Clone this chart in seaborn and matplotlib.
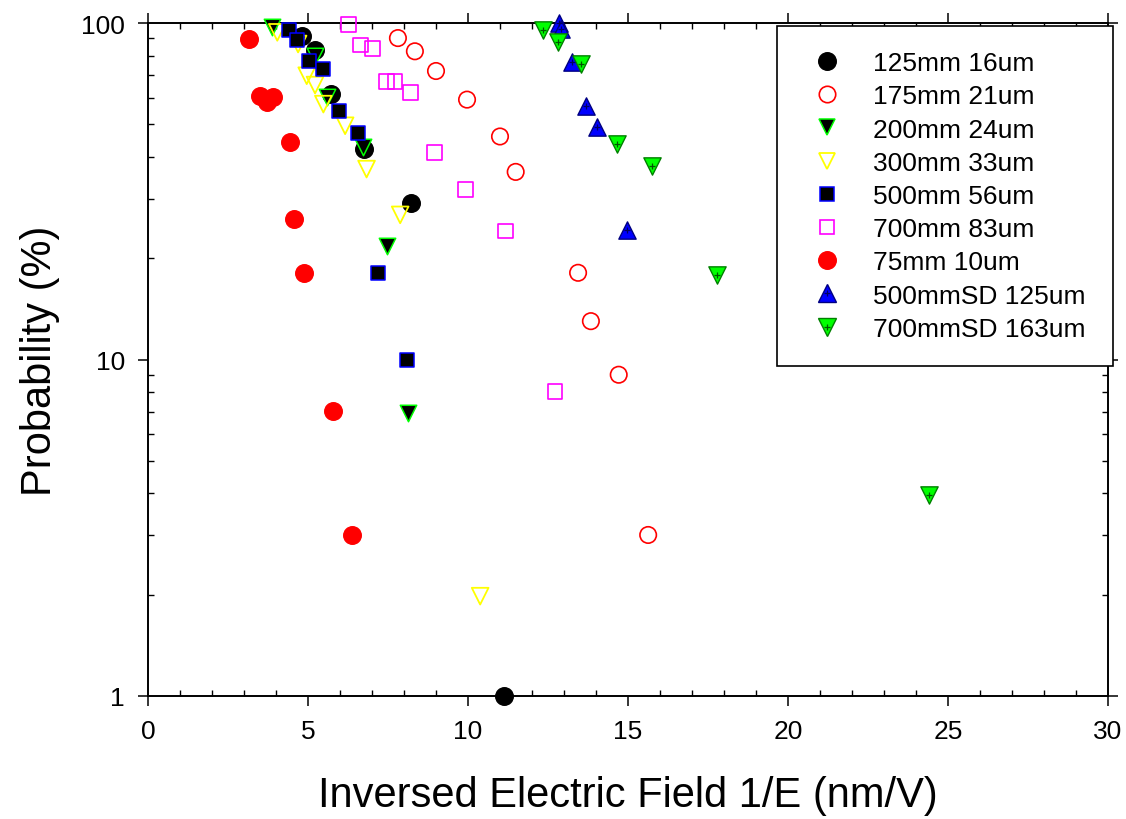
import numpy as np
import pandas as pd
import matplotlib
matplotlib.use("Agg")
import matplotlib.pyplot as plt
from matplotlib.lines import Line2D
from matplotlib.legend_handler import HandlerTuple
from matplotlib.ticker import LogLocator, FixedLocator, FixedFormatter, MultipleLocator, NullFormatter
import seaborn as sns

# ---------------- data ----------------
x_125mm = [4.80, 5.22, 5.72, 6.75, 8.22, 11.13]
y_125mm = [91.7, 83.2, 61.5, 42.2, 29.2, 1.0]

x_175mm = [7.81, 8.34, 9.00, 9.97, 11.00, 11.49, 13.44, 13.84, 14.71, 15.63]
y_175mm = [90.2, 82.4, 72.0, 59.2, 46.0, 36.1, 18.1, 13.0, 9.01, 3.01]

x_200mm = [3.87, 5.22, 5.60, 6.71, 7.46, 8.12]
y_200mm = [97.1, 80.0, 60.2, 42.8, 21.8, 6.92]

x_300mm = [4.04, 4.69, 4.96, 5.22, 5.48, 6.16, 6.83, 7.88, 10.38]
y_300mm = [93.8, 86.6, 69.7, 65.4, 57.4, 49.5, 36.8, 26.9, 1.98]

x_500mm = [4.41, 4.67, 5.03, 5.46, 5.98, 6.55, 7.19, 8.09]
y_500mm = [95.5, 89.0, 77.1, 73.0, 54.9, 47.1, 18.1, 9.99]

x_700mm = [6.26, 6.63, 7.02, 7.44, 7.72, 8.19, 8.94, 9.91, 11.16, 12.72]
y_700mm = [98.9, 86.0, 84.1, 66.9, 66.9, 62.2, 41.1, 32.1, 24.1, 8.01]

x_75mm = [3.17, 3.50, 3.71, 3.92, 4.44, 4.57, 4.88, 5.78, 6.38]
y_75mm = [89.6, 60.8, 58.1, 60.2, 44.2, 26.2, 18.1, 7.03, 3.01]

x_500SD = [12.84, 12.90, 13.24, 13.68, 14.02, 14.96]
y_500SD = [100.0, 96.0, 76.7, 56.8, 49.1, 24.3]

x_700SD = [12.33, 12.82, 13.53, 14.65, 15.76, 17.79, 24.41]
y_700SD = [95.5, 87.6, 75.5, 43.7, 37.7, 17.8, 3.96]

labels = ["125mm 16um", "175mm 21um", "200mm 24um", "300mm 33um", "500mm 56um",
          "700mm 83um", "75mm 10um", "500mmSD 125um", "700mmSD 163um"]
x_label = "Inversed Electric Field 1/E (nm/V)"
y_label = "Probability (%)"
x_ticks = [0, 5, 10, 15, 20, 25, 30]
y_ticks = [1, 10, 100]
y_ticklabels = ["1", "10", "100"]

# ---------------- style ----------------
sns.set_style("white")
plt.rcParams["font.family"] = ["Liberation Sans", "DejaVu Sans"]
for k in ["text.color", "axes.labelcolor", "xtick.color", "ytick.color", "axes.edgecolor"]:
    plt.rcParams[k] = "black"

fig = plt.figure(figsize=(11.26, 8.2), dpi=100)
ax = fig.add_axes([148 / 1126, 1 - 697 / 820, (1108 - 148) / 1126, (697 - 24) / 820])

series = [
    (x_125mm, y_125mm, dict(marker="o", s=160, facecolor="black", edgecolor="black", linewidth=1.0)),
    (x_175mm, y_175mm, dict(marker="o", s=140, facecolor="none", edgecolor="#ff0000", linewidth=1.2)),
    (x_200mm, y_200mm, dict(marker="v", s=140, facecolor="black", edgecolor="#00ff00", linewidth=1.1)),
    (x_300mm, y_300mm, dict(marker="v", s=145, facecolor="none", edgecolor="#ffff00", linewidth=1.3)),
    (x_500mm, y_500mm, dict(marker="s", s=110, facecolor="black", edgecolor="#0000ff", linewidth=1.1)),
    (x_700mm, y_700mm, dict(marker="s", s=115, facecolor="none", edgecolor="#ff00ff", linewidth=1.2)),
    (x_75mm, y_75mm, dict(marker="o", s=160, facecolor="#ff0000", edgecolor="#ff0000", linewidth=1.0)),
    (x_500SD, y_500SD, dict(marker="^", s=155, facecolor="#0000ff", edgecolor="#000080", linewidth=1.0)),
    (x_700SD, y_700SD, dict(marker="v", s=155, facecolor="#00ff00", edgecolor="#008000", linewidth=1.0)),
]
inner = {7: "#000060", 8: "#005500"}

handles = []
for i, (xs, ys, st) in enumerate(series):
    df = pd.DataFrame({"x": xs, "y": ys})
    sns.scatterplot(data=df, x="x", y="y", ax=ax, legend=False, clip_on=False,
                    zorder=3 + i * 0.01, **st)
    ms = np.sqrt(st["s"])
    h = Line2D([], [], linestyle="none", marker=st["marker"], markersize=ms,
               markerfacecolor=st["facecolor"], markeredgecolor=st["edgecolor"],
               markeredgewidth=st["linewidth"])
    if i in inner:
        sns.scatterplot(data=df, x="x", y="y", ax=ax, legend=False, clip_on=False,
                        marker="+", s=25, color=inner[i], linewidth=0.9, zorder=3.5)
        h2 = Line2D([], [], linestyle="none", marker="+", markersize=5,
                    color=inner[i], markeredgewidth=0.9)
        handles.append((h, h2))
    else:
        handles.append(h)

ax.set_yscale("log")
ax.set_xlim(0, 30)
ax.set_ylim(1, 100)
ax.xaxis.set_major_locator(FixedLocator(x_ticks))
ax.xaxis.set_minor_locator(MultipleLocator(1))
ax.yaxis.set_major_locator(FixedLocator(y_ticks))
ax.yaxis.set_major_formatter(FixedFormatter(y_ticklabels))
ax.yaxis.set_minor_locator(LogLocator(base=10, subs=np.arange(2, 10)))
ax.yaxis.set_minor_formatter(NullFormatter())

for sp in ax.spines.values():
    sp.set_visible(True)
    sp.set_color("black")
    sp.set_linewidth(1.4)

ax.tick_params(which="major", direction="out", length=7.5, width=1.1,
               bottom=True, left=True, top=True, right=True,
               labelsize=19, pad=9, color="black", labelcolor="black")
ax.tick_params(which="minor", direction="in", length=4.5, width=1.0,
               bottom=True, left=True, top=True, right=True, color="black")

ax.set_xlabel(x_label, fontsize=30, labelpad=23, color="black")
ax.set_ylabel(y_label, fontsize=30, labelpad=15, color="black")

leg = ax.legend(handles, labels, loc="upper left",
                bbox_to_anchor=(777 / 1126, 1 - 361 / 820, (1113 - 777) / 1126, (361 - 27) / 820),
                bbox_transform=fig.transFigure, mode="expand", borderaxespad=0,
                fontsize=19, frameon=True, fancybox=False, framealpha=1,
                edgecolor="black", borderpad=0.95, labelspacing=0.35,
                handlelength=1.89, handletextpad=0.8,
                handler_map={tuple: HandlerTuple(ndivide=1)})
leg.get_frame().set_linewidth(1.2)
leg.set_zorder(10)
for t in leg.get_texts():
    t.set_color("black")

fig.savefig("out.png", dpi=100)
